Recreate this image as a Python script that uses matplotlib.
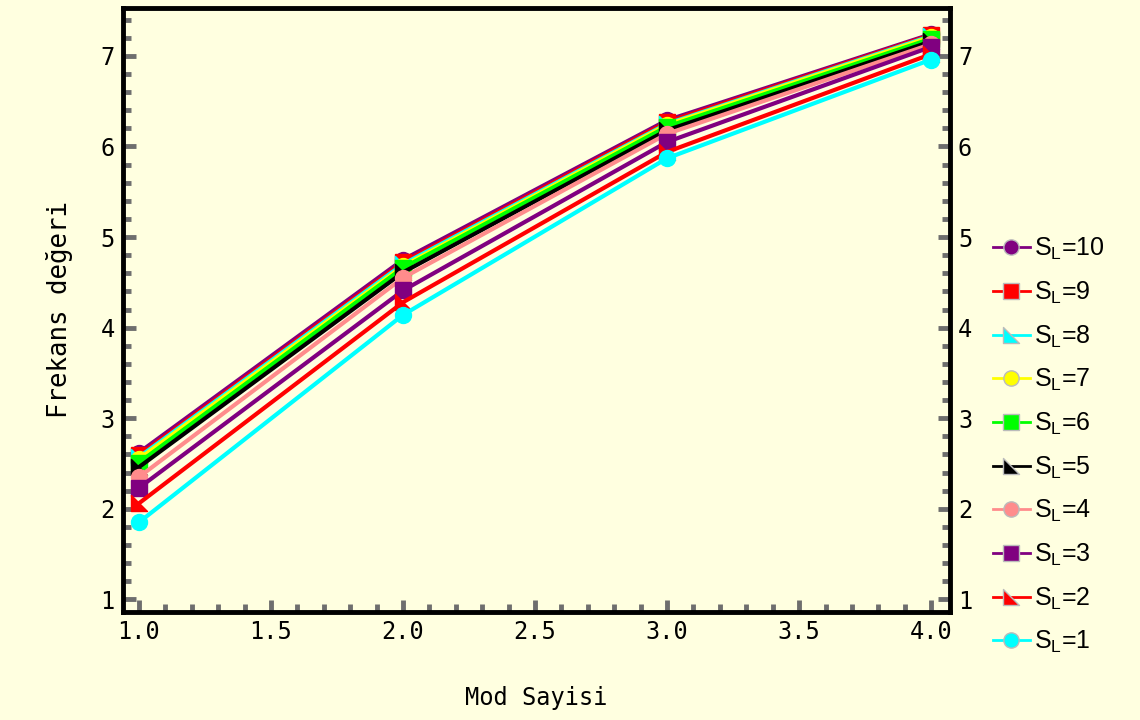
import numpy as np
import matplotlib

matplotlib.use("Agg")
import matplotlib.pyplot as plt
from matplotlib.path import Path
from matplotlib.ticker import MultipleLocator, FormatStrFormatter

BG = "#FFFFE0"

MODES = [1.0, 2.0, 3.0, 4.0]
# frequency values per S_L
SL10 = [2.62, 4.75, 6.29, 7.24]
SL9 = [2.59, 4.72, 6.27, 7.23]
SL8 = [2.57, 4.70, 6.25, 7.22]
SL7 = [2.55, 4.68, 6.24, 7.21]
SL6 = [2.51, 4.66, 6.22, 7.19]
SL5 = [2.46, 4.61, 6.18, 7.16]
SL4 = [2.35, 4.55, 6.14, 7.13]
SL3 = [2.23, 4.41, 6.05, 7.10]
SL2 = [2.06, 4.28, 5.94, 7.02]
SL1 = [1.85, 4.14, 5.87, 6.96]

LABELS = [r"S$_\mathregular{L}$=%d" % k for k in range(10, 0, -1)]
SERIES = [SL10, SL9, SL8, SL7, SL6, SL5, SL4, SL3, SL2, SL1]

tri = Path([(-1, 1), (-1, -1), (1, -1), (-1, 1)],
           [Path.MOVETO, Path.LINETO, Path.LINETO, Path.CLOSEPOLY])
STYLES = [
    ("#800080", "o"), ("#FF0000", "s"), ("#00FFFF", tri), ("#FFFF00", "o"),
    ("#00FF00", "s"), ("#000000", tri), ("#FF8C8C", "o"), ("#800080", "s"),
    ("#FF0000", tri), ("#00FFFF", "o"),
]

plt.rcParams["font.family"] = "DejaVu Sans Mono"

fig = plt.figure(figsize=(11.4, 7.2), dpi=100, facecolor=BG)
ax = fig.add_axes([0.108, 0.15, 0.725, 0.839], facecolor=BG)

for ys, lab, (c, m) in zip(SERIES, LABELS, STYLES):
    ax.plot(MODES, ys, color=c, lw=3, marker=m, ms=11.5,
            mfc=c, mec=c, label=lab)

ax.set_xlim(0.94, 4.07)
ax.set_ylim(0.86, 7.53)
ax.xaxis.set_major_locator(MultipleLocator(0.5))
ax.xaxis.set_minor_locator(MultipleLocator(0.1))
ax.yaxis.set_major_locator(MultipleLocator(1))
ax.yaxis.set_minor_locator(MultipleLocator(0.2))
ax.xaxis.set_major_formatter(FormatStrFormatter("%.1f"))

for s in ax.spines.values():
    s.set_linewidth(3.5)
    s.set_color("black")
ax.tick_params(which="both", direction="in", color="#6E6E6E",
               left=True, right=True, bottom=True, top=False,
               labelright=True, labelsize=17, pad=6)
ax.tick_params(which="major", length=9, width=3.5)
ax.tick_params(which="minor", length=6, width=3.5)

ax.set_xlabel("Mod Sayisi", fontsize=17, labelpad=30)
ax.set_ylabel("Frekans değeri", fontsize=18.5, labelpad=20)

leg = fig.legend(*ax.get_legend_handles_labels(), loc="center left",
                 bbox_to_anchor=(0.851, 0.381), frameon=False,
                 prop={"family": "Liberation Sans", "size": 18},
                 handlelength=1.5, handletextpad=0.15, labelspacing=0.7)
for h in leg.legend_handles:
    h.set_linewidth(2)
    h.set_markersize(11)
    h.set_markeredgecolor("#BBBBBB")

fig.savefig("out.png", dpi=100, facecolor=BG)
